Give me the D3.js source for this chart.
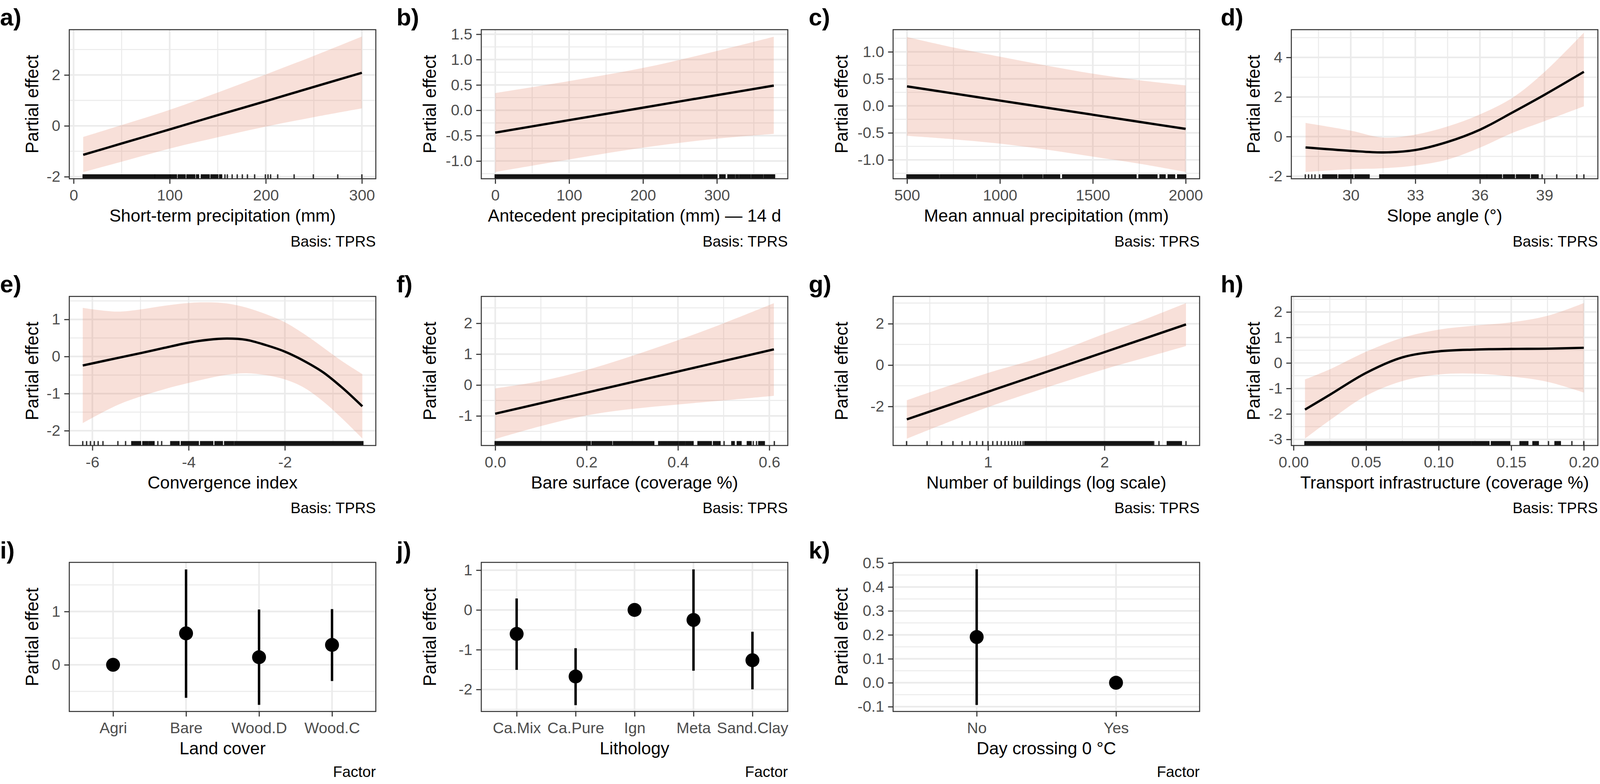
<!DOCTYPE html>
<html>
<head>
<meta charset="utf-8">
<script src="https://cdn.jsdelivr.net/npm/d3@7"></script>
<style>
  html, body { margin: 0; padding: 0; background: #fff; overflow: hidden; width: 100%; height: 100%; }
  #chart { width: 100vw; height: 100vh; }
  svg { display: block; width: 100%; height: 100%; font-family: "Liberation Sans", Arial, Helvetica, sans-serif; }
</style>
</head>
<body>
<div id="chart"></div>
<script>
// ---------- values ----------

// a) short-term precipitation
const aX   = [10, 50, 100, 150, 200, 250, 300];
const aFit = [-1.14, -0.695, -0.14, 0.42, 0.97, 1.53, 2.085];
const aLo  = [-1.82, -1.41, -0.895, -0.45, -0.03, 0.34, 0.685];
const aHi  = [-0.435, 0.03, 0.63, 1.31, 2.02, 2.75, 3.51];
const aRugRuns  = [[10, 84], [85, 100], [101, 107], [109, 116], [118, 126], [128, 130], [133, 141], [143, 150], [152, 154]];
const aRugTicks = [157.5, 160, 165, 170.3, 175.6, 180.9, 188.4, 199.6, 202.3, 205, 212.4, 229.5, 249.5, 274.9, 300];

// b) antecedent precipitation
const bX   = [0, 100, 200, 300, 377];
const bFit = [-0.44, -0.194, 0.052, 0.298, 0.487];
const bLo  = [-1.218, -0.97, -0.737, -0.56, -0.465];
const bHi  = [0.34, 0.576, 0.835, 1.17, 1.45];
const bRugRuns  = [[0, 280], [282, 300], [304, 311], [315, 324], [326, 329], [331, 345], [347, 362], [364, 378]];
const bRugTicks = [];

// c) mean annual precipitation
const cX   = [500, 750, 1000, 1250, 1500, 1750, 2000];
const cFit = [0.36, 0.229, 0.097, -0.034, -0.165, -0.296, -0.427];
const cLo  = [-0.556, -0.62, -0.70, -0.81, -0.94, -1.07, -1.224];
const cHi  = [1.274, 1.08, 0.91, 0.745, 0.595, 0.475, 0.379];
const cRugRuns  = [[500, 667], [683, 870], [879, 1118], [1127, 1227], [1236, 1321], [1338, 1729], [1753, 1845], [1862, 1889], [1906, 1940], [1957, 2000]];
const cRugTicks = [672, 678, 1733, 1748];

// d) slope angle
const dX   = [27.9, 30, 31.5, 33, 34.5, 36, 37.5, 39, 40.83];
const dFit = [-0.55, -0.72, -0.80, -0.68, -0.27, 0.345, 1.21, 2.11, 3.27];
const dLo  = [-1.79, -1.65, -1.60, -1.46, -1.16, -0.56, 0.18, 0.78, 1.53];
const dHi  = [0.69, 0.30, -0.05, 0.10, 0.51, 1.12, 1.95, 3.26, 5.25];
const dRugRuns  = [[28.7, 29.35], [29.45, 30.1], [30.2, 30.85], [31.35, 36.3], [36.35, 37.0], [37.1, 37.6], [37.7, 38.3], [38.4, 38.7]];
const dRugTicks = [27.89, 28.04, 28.19, 28.34, 28.55, 38.89, 39.57, 40.5, 40.83];

// e) convergence index
const eX   = [-6.2, -5.5, -5.0, -4.5, -4.0, -3.6, -3.2, -2.8, -2.4, -2.0, -1.6, -1.2, -0.8, -0.39];
const eFit = [-0.242, -0.046, 0.09, 0.235, 0.374, 0.45, 0.484, 0.449, 0.31, 0.132, -0.12, -0.43, -0.85, -1.342];
const eLo  = [-1.796, -1.32, -1.078, -0.88, -0.713, -0.59, -0.49, -0.45, -0.5, -0.616, -0.84, -1.215, -1.684, -2.21];
const eHi  = [1.312, 1.211, 1.27, 1.37, 1.444, 1.462, 1.43, 1.32, 1.145, 0.925, 0.607, 0.24, -0.136, -0.475];
const eRugRuns  = [[-5.18, -5.0], [-4.95, -4.85], [-4.82, -4.72], [-4.37, -4.2], [-4.15, -3.8], [-3.75, -3.5], [-3.45, -3.3], [-3.25, -3.07], [-3.04, -0.38]];
const eRugTicks = [-6.2, -6.12, -6.04, -5.96, -5.88, -5.78, -5.47, -5.31, -4.64, -4.56];

// f) bare surface
const fX   = [0, 0.1, 0.2, 0.3, 0.4, 0.5, 0.61];
const fFit = [-0.93, -0.588, -0.246, 0.095, 0.437, 0.779, 1.155];
const fLo  = [-1.75, -1.33, -0.985, -0.774, -0.63, -0.50, -0.35];
const fHi  = [-0.11, 0.127, 0.486, 0.946, 1.45, 2.0, 2.65];
const fRugRuns  = [[0, 0.208], [0.212, 0.255], [0.259, 0.347], [0.358, 0.375], [0.378, 0.400], [0.403, 0.415], [0.418, 0.433], [0.444, 0.473], [0.478, 0.492], [0.518, 0.523], [0.530, 0.538], [0.552, 0.560], [0.577, 0.589]];
const fRugTicks = [0.501, 0.565, 0.572, 0.611];

// g) number of buildings (log10)
const gX   = [0.303, 0.65, 1, 1.5, 2, 2.35, 2.7];
const gFit = [-2.626, -1.96, -1.29, -0.333, 0.625, 1.295, 1.965];
const gLo  = [-3.56, -2.78, -2.035, -1.09, -0.20, 0.36, 0.92];
const gHi  = [-1.70, -1.03, -0.38, 0.45, 1.515, 2.22, 3.0];
const gRugRuns  = [[1.316, 2.412], [2.54, 2.66]];
const gRugTicks = [0.301, 0.477, 0.602, 0.699, 0.778, 0.845, 0.903, 0.954, 1.0, 1.041, 1.079, 1.114, 1.146, 1.176, 1.204, 1.230, 1.255, 1.279, 1.301, 2.423, 2.468, 2.70];

// h) transport infrastructure
const hX   = [0.0079, 0.025, 0.05, 0.075, 0.10, 0.125, 0.15, 0.175, 0.20];
const hFit = [-1.83, -1.25, -0.39, 0.22, 0.455, 0.525, 0.55, 0.56, 0.595];
const hLo  = [-2.97, -2.25, -1.287, -0.71, -0.455, -0.42, -0.53, -0.74, -1.16];
const hHi  = [-0.646, -0.25, 0.44, 0.986, 1.306, 1.466, 1.594, 1.85, 2.35];
const hRugRuns  = [[0.0079, 0.1221], [0.1230, 0.1346], [0.1364, 0.1489], [0.1561, 0.1614], [0.165, 0.1686], [0.1802, 0.1838]];
const hRugTicks = [0.1757, 0.1918, 0.2];

// i) land cover (reference level has no interval)
const iCats = ["Agri", "Bare", "Wood.D", "Wood.C"];
const iEst  = [0, 0.59, 0.142, 0.373];
const iLo   = [null, -0.62, -0.752, -0.305];
const iHi   = [null, 1.79, 1.037, 1.046];

// j) lithology
const jCats = ["Ca.Mix", "Ca.Pure", "Ign", "Meta", "Sand.Clay"];
const jEst  = [-0.603, -1.673, 0, -0.252, -1.265];
const jLo   = [-1.508, -2.395, null, -1.53, -1.996];
const jHi   = [0.289, -0.963, null, 1.02, -0.55];

// k) day crossing 0 °C
const kCats = ["No", "Yes"];
const kEst  = [0.191, 0];
const kLo   = [-0.0926, null];
const kHi   = [0.474, null];

// axis limits and ticks
const aXDom = [-4.5, 314.5],      aYDom = [-2.08, 3.78];
const bXDom = [-18.9, 396],       bYDom = [-1.35, 1.59];
const cXDom = [425, 2075],        cYDom = [-1.35, 1.41];
const dXDom = [27.24, 41.48],     dYDom = [-2.13, 5.40];
const eXDom = [-6.48, -0.11],     eYDom = [-2.40, 1.62];
const fXDom = [-0.0305, 0.6405],  fYDom = [-1.96, 2.87];
const gXDom = [0.185, 2.817],     gYDom = [-3.89, 3.32];
const hXDom = [-0.0015, 0.2097],  hYDom = [-3.24, 2.61];
const iYDom = [-0.876, 1.922];
const jYDom = [-2.553, 1.195];
const kYDom = [-0.120, 0.5027];

const aXTicks = [0, 100, 200, 300],   aXLabels = ["0", "100", "200", "300"];
const bXTicks = [0, 100, 200, 300],   bXLabels = ["0", "100", "200", "300"];
const cXTicks = [500, 1000, 1500, 2000], cXLabels = ["500", "1000", "1500", "2000"];
const dXTicks = [30, 33, 36, 39],     dXLabels = ["30", "33", "36", "39"];
const eXTicks = [-6, -4, -2],         eXLabels = ["-6", "-4", "-2"];
const fXTicks = [0, 0.2, 0.4, 0.6],   fXLabels = ["0.0", "0.2", "0.4", "0.6"];
const gXTicks = [1, 2],               gXLabels = ["1", "2"];
const hXTicks = [0, 0.05, 0.1, 0.15, 0.2], hXLabels = ["0.00", "0.05", "0.10", "0.15", "0.20"];

const aYTicks = [-2, 0, 2],           aYLabels = ["-2", "0", "2"];
const bYTicks = [-1, -0.5, 0, 0.5, 1, 1.5], bYLabels = ["-1.0", "-0.5", "0.0", "0.5", "1.0", "1.5"];
const cYTicks = [-1, -0.5, 0, 0.5, 1], cYLabels = ["-1.0", "-0.5", "0.0", "0.5", "1.0"];
const dYTicks = [-2, 0, 2, 4],        dYLabels = ["-2", "0", "2", "4"];
const eYTicks = [-2, -1, 0, 1],       eYLabels = ["-2", "-1", "0", "1"];
const fYTicks = [-1, 0, 1, 2],        fYLabels = ["-1", "0", "1", "2"];
const gYTicks = [-2, 0, 2],           gYLabels = ["-2", "0", "2"];
const hYTicks = [-3, -2, -1, 0, 1, 2], hYLabels = ["-3", "-2", "-1", "0", "1", "2"];
const iYTicks = [0, 1],               iYLabels = ["0", "1"];
const jYTicks = [-2, -1, 0, 1],       jYLabels = ["-2", "-1", "0", "1"];
const kYTicks = [-0.1, 0, 0.1, 0.2, 0.3, 0.4, 0.5], kYLabels = ["-0.1", "0.0", "0.1", "0.2", "0.3", "0.4", "0.5"];

// ---------- layout ----------
const width = 4134, height = 2006;
const colLeft = [179, 1243.5, 2307.5, 3336.5];
const tagX = [0, 1024.5, 2089.5, 3154];
const yTitleX = [98.5, 1126, 2190, 3255];
const rowTop = [67.3, 756.2, 1443];
const PW = 792, PH = 385;
const FONT = "'Liberation Sans', Arial, Helvetica, sans-serif";
const ribbonFill = "#e58f75";

// the viewBox keeps the whole figure inside whatever viewport the page gets
const svg = d3.select("#chart")
  .append("svg")
  .attr("viewBox", [0, 0, width, height])
  .attr("preserveAspectRatio", "xMidYMid meet");

svg.append("rect").attr("width", width).attr("height", height).attr("fill", "#fff");

// minor breaks sit halfway between major breaks (ggplot style)
function minorBreaks(ticks, dom) {
  const step = ticks[1] - ticks[0];
  const out = [ticks[0] - step / 2];
  ticks.forEach(t => out.push(t + step / 2));
  return out.filter(v => v > dom[0] && v < dom[1]);
}

let clipId = 0;

// common frame: tag, grid, axes, titles, caption; returns the clipped content group
function drawFrame(p, xScale, yScale, xMinor) {
  const x0 = colLeft[p.col], y0 = rowTop[p.row];
  const g = svg.append("g");

  // tag
  g.append("text")
    .attr("x", tagX[p.col]).attr("y", y0 - 10.5)
    .attr("font-size", 62).attr("font-weight", "bold")
    .attr("fill", "#000")
    .text(p.tag);

  // grid
  const grid = g.append("g").attr("stroke", "#ebebeb");
  grid.selectAll(".ymin").data(minorBreaks(p.yTicks, p.yDom)).join("line")
    .attr("x1", x0).attr("x2", x0 + PW)
    .attr("y1", d => yScale(d)).attr("y2", d => yScale(d))
    .attr("stroke-width", 2.6);
  grid.selectAll(".xmin").data(xMinor).join("line")
    .attr("y1", y0).attr("y2", y0 + PH)
    .attr("x1", d => xScale(d)).attr("x2", d => xScale(d))
    .attr("stroke-width", 2.6);
  grid.selectAll(".ymaj").data(p.yTicks).join("line")
    .attr("x1", x0).attr("x2", x0 + PW)
    .attr("y1", d => yScale(d)).attr("y2", d => yScale(d))
    .attr("stroke-width", 4.2);
  grid.selectAll(".xmaj").data(p.xTicks).join("line")
    .attr("y1", y0).attr("y2", y0 + PH)
    .attr("x1", d => xScale(d)).attr("x2", d => xScale(d))
    .attr("stroke-width", 4.2);

  // content group clipped to panel
  const id = "clip" + (clipId++);
  svg.append("clipPath").attr("id", id)
    .append("rect").attr("x", x0).attr("y", y0).attr("width", PW).attr("height", PH);
  const content = g.append("g").attr("clip-path", `url(#${id})`);

  // border
  g.append("rect")
    .attr("x", x0).attr("y", y0).attr("width", PW).attr("height", PH)
    .attr("fill", "none").attr("stroke", "#333333").attr("stroke-width", 2.6);

  // axes
  const styleAxis = ax => {
    ax.select(".domain").remove();
    ax.attr("font-family", FONT).attr("font-size", 40);
    ax.selectAll("line").attr("stroke", "#333333").attr("stroke-width", 2.8);
    ax.selectAll("text").attr("fill", "#4d4d4d");
  };
  g.append("g")
    .attr("transform", `translate(0,${y0 + PH})`)
    .call(d3.axisBottom(xScale).tickValues(p.xTicks)
      .tickFormat(d => p.xLabels[p.xTicks.indexOf(d)])
      .tickSize(13).tickPadding(15))
    .call(styleAxis);
  g.append("g")
    .attr("transform", `translate(${x0},0)`)
    .call(d3.axisLeft(yScale).tickValues(p.yTicks)
      .tickFormat(d => p.yLabels[p.yTicks.indexOf(d)])
      .tickSize(13).tickPadding(10))
    .call(styleAxis);

  // titles
  g.append("text")
    .attr("x", x0 + PW / 2).attr("y", y0 + PH + 111)
    .attr("text-anchor", "middle").attr("font-size", 45).attr("fill", "#000")
    .text(p.title);
  g.append("text")
    .attr("transform", `translate(${yTitleX[p.col]},${y0 + PH / 2}) rotate(-90)`)
    .attr("text-anchor", "middle").attr("font-size", 46).attr("fill", "#000")
    .text("Partial effect");
  g.append("text")
    .attr("x", x0 + PW).attr("y", Math.min(y0 + PH + 175, height - 9))
    .attr("text-anchor", "end").attr("font-size", 39).attr("fill", "#000")
    .text(p.caption);

  return content;
}

function drawSmooth(p) {
  const x0 = colLeft[p.col], y0 = rowTop[p.row];
  const xScale = d3.scaleLinear().domain(p.xDom).range([x0, x0 + PW]);
  const yScale = d3.scaleLinear().domain(p.yDom).range([y0 + PH, y0]);
  p.caption = "Basis: TPRS";
  const content = drawFrame(p, xScale, yScale, minorBreaks(p.xTicks, p.xDom));

  const rows = p.x.map((v, i) => ({ x: v, fit: p.fit[i], lo: p.lo[i], hi: p.hi[i] }));

  content.append("path")
    .datum(rows)
    .attr("fill", ribbonFill).attr("fill-opacity", 0.28)
    .attr("d", d3.area()
      .curve(d3.curveCatmullRom.alpha(0.5))
      .x(d => xScale(d.x)).y0(d => yScale(d.lo)).y1(d => yScale(d.hi)));

  content.append("path")
    .datum(rows)
    .attr("fill", "none").attr("stroke", "#000").attr("stroke-width", 6)
    .attr("stroke-linejoin", "round")
    .attr("d", d3.line()
      .curve(d3.curveCatmullRom.alpha(0.5))
      .x(d => xScale(d.x)).y(d => yScale(d.fit)));

  // rug: dense stretches and single ticks
  const rugLen = 0.03 * PH;
  content.append("g").selectAll("rect")
    .data(p.rugRuns).join("rect")
    .attr("x", d => xScale(d[0]) - 1.8)
    .attr("width", d => xScale(d[1]) - xScale(d[0]) + 3.6)
    .attr("y", y0 + PH - rugLen).attr("height", rugLen)
    .attr("fill", "#000").attr("fill-opacity", 0.92);
  content.append("g").selectAll("line")
    .data(p.rugTicks).join("line")
    .attr("x1", d => xScale(d)).attr("x2", d => xScale(d))
    .attr("y1", y0 + PH).attr("y2", y0 + PH - rugLen)
    .attr("stroke", "#000").attr("stroke-width", 3.6).attr("stroke-opacity", 0.8);
}

function drawFactor(p) {
  const x0 = colLeft[p.col], y0 = rowTop[p.row];
  const xScale = d3.scalePoint().domain(p.cats).range([x0, x0 + PW]).padding(0.6);
  const yScale = d3.scaleLinear().domain(p.yDom).range([y0 + PH, y0]);
  p.caption = "Factor";
  p.xTicks = p.cats;
  p.xLabels = p.cats;
  const content = drawFrame(p, xScale, yScale, []);

  const rows = p.cats.map((c, i) => ({ cat: c, est: p.est[i], lo: p.lo[i], hi: p.hi[i] }));

  content.append("g").selectAll("line")
    .data(rows.filter(d => d.lo !== null)).join("line")
    .attr("x1", d => xScale(d.cat)).attr("x2", d => xScale(d.cat))
    .attr("y1", d => yScale(d.lo)).attr("y2", d => yScale(d.hi))
    .attr("stroke", "#000").attr("stroke-width", 6.3);
  content.append("g").selectAll("circle")
    .data(rows).join("circle")
    .attr("cx", d => xScale(d.cat)).attr("cy", d => yScale(d.est))
    .attr("r", 18).attr("fill", "#000");
}

drawSmooth({ tag: "a)", col: 0, row: 0, title: "Short-term precipitation (mm)",
  x: aX, fit: aFit, lo: aLo, hi: aHi, xDom: aXDom, yDom: aYDom,
  xTicks: aXTicks, xLabels: aXLabels, yTicks: aYTicks, yLabels: aYLabels,
  rugRuns: aRugRuns, rugTicks: aRugTicks });
drawSmooth({ tag: "b)", col: 1, row: 0, title: "Antecedent precipitation (mm) \u2014 14 d",
  x: bX, fit: bFit, lo: bLo, hi: bHi, xDom: bXDom, yDom: bYDom,
  xTicks: bXTicks, xLabels: bXLabels, yTicks: bYTicks, yLabels: bYLabels,
  rugRuns: bRugRuns, rugTicks: bRugTicks });
drawSmooth({ tag: "c)", col: 2, row: 0, title: "Mean annual precipitation (mm)",
  x: cX, fit: cFit, lo: cLo, hi: cHi, xDom: cXDom, yDom: cYDom,
  xTicks: cXTicks, xLabels: cXLabels, yTicks: cYTicks, yLabels: cYLabels,
  rugRuns: cRugRuns, rugTicks: cRugTicks });
drawSmooth({ tag: "d)", col: 3, row: 0, title: "Slope angle (\u00b0)",
  x: dX, fit: dFit, lo: dLo, hi: dHi, xDom: dXDom, yDom: dYDom,
  xTicks: dXTicks, xLabels: dXLabels, yTicks: dYTicks, yLabels: dYLabels,
  rugRuns: dRugRuns, rugTicks: dRugTicks });
drawSmooth({ tag: "e)", col: 0, row: 1, title: "Convergence index",
  x: eX, fit: eFit, lo: eLo, hi: eHi, xDom: eXDom, yDom: eYDom,
  xTicks: eXTicks, xLabels: eXLabels, yTicks: eYTicks, yLabels: eYLabels,
  rugRuns: eRugRuns, rugTicks: eRugTicks });
drawSmooth({ tag: "f)", col: 1, row: 1, title: "Bare surface (coverage %)",
  x: fX, fit: fFit, lo: fLo, hi: fHi, xDom: fXDom, yDom: fYDom,
  xTicks: fXTicks, xLabels: fXLabels, yTicks: fYTicks, yLabels: fYLabels,
  rugRuns: fRugRuns, rugTicks: fRugTicks });
drawSmooth({ tag: "g)", col: 2, row: 1, title: "Number of buildings (log scale)",
  x: gX, fit: gFit, lo: gLo, hi: gHi, xDom: gXDom, yDom: gYDom,
  xTicks: gXTicks, xLabels: gXLabels, yTicks: gYTicks, yLabels: gYLabels,
  rugRuns: gRugRuns, rugTicks: gRugTicks });
drawSmooth({ tag: "h)", col: 3, row: 1, title: "Transport infrastructure (coverage %)",
  x: hX, fit: hFit, lo: hLo, hi: hHi, xDom: hXDom, yDom: hYDom,
  xTicks: hXTicks, xLabels: hXLabels, yTicks: hYTicks, yLabels: hYLabels,
  rugRuns: hRugRuns, rugTicks: hRugTicks });

drawFactor({ tag: "i)", col: 0, row: 2, title: "Land cover",
  cats: iCats, est: iEst, lo: iLo, hi: iHi, yDom: iYDom, yTicks: iYTicks, yLabels: iYLabels });
drawFactor({ tag: "j)", col: 1, row: 2, title: "Lithology",
  cats: jCats, est: jEst, lo: jLo, hi: jHi, yDom: jYDom, yTicks: jYTicks, yLabels: jYLabels });
drawFactor({ tag: "k)", col: 2, row: 2, title: "Day crossing 0 \u00b0C",
  cats: kCats, est: kEst, lo: kLo, hi: kHi, yDom: kYDom, yTicks: kYTicks, yLabels: kYLabels });
</script>
</body>
</html>
